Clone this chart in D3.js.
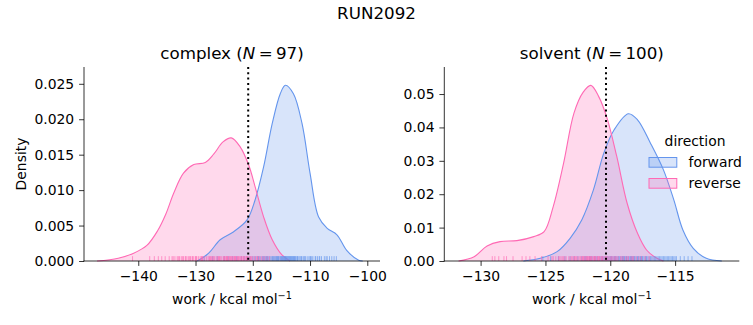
<!DOCTYPE html>
<html><head><meta charset="utf-8">
<script src="https://cdn.jsdelivr.net/npm/d3@7"></script>
<style>
body{margin:0;background:#fff}
text{font-family:"DejaVu Sans",sans-serif;fill:#000}
</style>
</head><body>
<svg id="c" width="753" height="325"></svg>
<script>
// ---------- data ----------
const suptitle = "RUN2092";
const directions = ["forward", "reverse"];
const directionColors = ["#6495ED", "#FF69B4"];
const legendTitle = "direction";

// complex: KDE curves
const complexN = 97;
const complexFwdWork = [-129.7,-127.7,-125.7,-123.4,-121.0,-119.6,-118.1,-116.6,-115.2,-114.3,-112.9,-111.4,-110.0,-108.5,-107.0,-105.3,-103.6,-101.5,-100.8];
const complexFwdDensity = [0,0.0011,0.003,0.0041,0.0058,0.0086,0.0133,0.0194,0.0236,0.0248,0.0236,0.0194,0.0124,0.0062,0.0046,0.0037,0.0015,0.0001,0];
const complexRevWork = [-147.2,-143.5,-140.8,-138.5,-136.6,-135.2,-133.8,-132.1,-130.3,-128.3,-126.8,-125.2,-123.75,-122.2,-120.7,-119.6,-118.1,-116.6,-114.9,-113.5];
const complexRevDensity = [0,0.0004,0.0011,0.0022,0.0043,0.0066,0.0096,0.0124,0.0136,0.0139,0.0151,0.0168,0.01737,0.0161,0.0135,0.0105,0.0062,0.003,0.00085,0];
const complexMeanWork = -120.8;

// complex rug samples
const complexFwdSamples = [-128.5,-127.0,-126.2,-125.0,-124.3,-123.5,-122.8,-122.0,-121.5,-121.0,-120.5,-120.1,
 -119.8,-119.5,-119.2,-118.9,-118.6,-118.3,-118.0,-117.8,-117.6,-117.4,-117.2,-117.0,-119.0,-118.1,-117.5,
 -116.8,-116.6,-116.4,-116.2,-116.0,-115.9,-115.7,-115.5,-115.4,-115.2,-115.0,-114.9,-114.7,-114.6,-114.4,-114.3,-114.1,-114.0,-113.8,-113.7,-113.5,-113.4,-113.2,-113.0,-112.9,-112.7,-112.5,-112.3,-112.1,-111.9,-116.5,-115.8,-115.1,-114.5,-113.9,-113.3,-112.8,-112.2,-115.6,-114.8,-114.2,-113.6,-113.1,-112.6,-114.35,
 -111.7,-111.4,-111.1,-110.8,-110.5,-110.2,-109.9,-109.5,-109.1,-108.7,-108.3,-111.0,-110.0,-111.5,-109.7,
 -108.0,-107.5,-107.0,-106.6,-106.2,-105.8,-105.4,-109.0,-108.4,-107.2];
const complexRevSamples = [-141.0,-138.0,-137.2,-136.5,-135.9,-135.3,-134.6,-134.1,
 -133.6,-133.2,-132.8,-132.5,-132.1,-131.8,-131.5,-131.2,-130.9,-130.6,-130.3,-130.0,-129.8,-129.5,-129.2,-128.9,-128.7,-128.4,-128.1,-133.0,-131.0,-129.9,-128.8,-132.3,-130.5,-129.0,-133.9,-131.7,
 -127.8,-127.5,-127.2,-127.0,-126.7,-126.4,-126.2,-125.9,-125.6,-125.4,-125.1,-124.9,-124.7,-124.5,-124.3,-124.1,-123.9,-123.7,-123.5,-123.3,-123.1,-122.9,-122.7,-122.5,-122.3,-122.1,-121.9,-121.7,-121.5,-121.3,-121.1,-120.9,-126.9,-125.0,-124.0,-123.0,-122.0,-121.0,-125.8,-124.6,-123.6,-122.6,-127.4,-126.0,-124.4,
 -120.7,-120.5,-120.2,-120.0,-119.7,-119.4,-119.1,-118.8,-118.5,-118.2,-117.9,-117.5,-117.1,-120.4,-119.2,
 -127.6,-123.2,-121.6];

// solvent
const solventN = 100;
const solventFwdWork = [-126.7,-125.4,-124.1,-123.1,-122.2,-121.3,-120.5,-119.7,-118.6,-117.9,-116.9,-115.9,-115.1,-114.4,-113.6,-112.6,-111.4];
const solventFwdDensity = [0,0.0008,0.0028,0.0068,0.0123,0.0213,0.0323,0.0393,0.0441,0.0423,0.0353,0.0273,0.0183,0.0093,0.0038,0.0008,0];
const solventRevWork = [-131.7,-130.5,-129.5,-128.5,-127.2,-125.9,-125.1,-124.4,-123.6,-122.8,-122.1,-121.5,-120.9,-120.25,-119.5,-118.7,-117.9,-117.2,-116.4,-115.9];
const solventRevDensity = [0,0.0013,0.0045,0.0058,0.0061,0.0073,0.0088,0.0163,0.0293,0.0443,0.0505,0.0526,0.0493,0.0428,0.0313,0.0173,0.0083,0.0033,0.0008,0];
const solventMeanWork = -120.33;

const solventFwdSamples = [-125.2,-124.6,-124.0,-123.5,-123.1,-122.8,-122.5,
 -122.2,-122.0,-121.8,-121.6,-121.4,-121.2,-121.0,-120.8,-120.6,-120.4,-120.2,-120.0,-119.9,-119.8,-119.7,-119.6,-119.5,-119.4,-119.3,-119.2,-119.1,-119.0,-118.9,-118.8,-118.7,-118.6,-118.5,-118.4,-118.3,-118.2,-118.1,-118.0,-117.9,-117.8,-117.7,-117.6,-117.5,-117.4,-117.3,-117.2,-117.1,-117.0,
 -116.9,-116.7,-116.5,-116.3,-116.1,-115.9,-115.7,-115.5,-115.3,-115.1,-114.9,-114.6,-114.3,-114.0,-113.7,
 -121.9,-121.5,-121.1,-120.7,-120.3,-119.95,-119.65,-119.35,-119.05,-118.75,-118.45,-118.15,-117.85,-117.55,-117.25,-116.8,-116.4,-116.0,-115.6,-115.2,-120.5,-120.1,-118.95,-118.35,-117.65,-116.6,-116.2,-115.8,-115.4,-115.0];
const solventRevSamples = [-129.1,-128.9,-128.6,-128.2,-128.0,-127.5,-126.8,-126.5,-126.2,-125.8,-125.3,
 -124.8,-124.5,-124.2,-124.0,-123.8,-123.6,-123.4,-123.2,-123.0,-122.9,-122.7,-122.6,-122.4,-122.3,-122.2,-122.1,-122.0,-121.9,-121.8,-121.7,-121.6,-121.5,-121.4,-121.3,-121.2,-121.1,-121.0,-120.9,-120.8,-120.7,-120.6,-120.5,-120.4,-120.3,-120.2,-120.1,-120.0,-119.9,-119.8,-119.7,
 -123.9,-123.5,-123.1,-122.8,-122.5,-121.85,-121.55,-121.25,-120.95,-120.65,-120.35,-122.15,-121.75,-121.45,-121.15,-120.85,
 -119.6,-119.4,-119.2,-119.0,-118.8,-118.6,-118.4,-118.2,-118.0,-117.8,-117.6,-117.3,-117.0,-119.5,-119.1,-118.7,-118.3,
 -124.4,-123.7,-122.75,-122.05,-121.65];

const complexXTicks = [-140,-130,-120,-110,-100];
const complexYTicks = [0,0.005,0.010,0.015,0.020,0.025];
const solventXTicks = [-130,-125,-120,-115];
const solventYTicks = [0,0.01,0.02,0.03,0.04,0.05];
const xLabelText = "work / kcal mol";
const yLabelText = "Density";

// ---------- drawing ----------
const svg = d3.select("#c");
const FS = 13.9, TFS = 16.7;

svg.append("text").attr("x", 376.5).attr("y", 18.5).attr("text-anchor","middle")
  .style("font-size", TFS+"px").text(suptitle);

function zip(a,b){ return a.map((v,i)=>[v,b[i]]); }

const panels = [
  {name:"complex", N:complexN, left:84, right:380, top:67, bottom:261,
   xDomain:[-149.48,-97.78], yDomain:[0,0.02737], xTicks:complexXTicks, yTicks:complexYTicks, yFmt:".3f",
   curves:[zip(complexFwdWork,complexFwdDensity), zip(complexRevWork,complexRevDensity)],
   rugs:[complexFwdSamples, complexRevSamples], mean:complexMeanWork, ylabel:true, legend:false},
  {name:"solvent", N:solventN, left:444.3, right:739.3, top:67, bottom:261,
   xDomain:[-132.8,-110.05], yDomain:[0,0.0581], xTicks:solventXTicks, yTicks:solventYTicks, yFmt:".2f",
   curves:[zip(solventFwdWork,solventFwdDensity), zip(solventRevWork,solventRevDensity)],
   rugs:[solventFwdSamples, solventRevSamples], mean:solventMeanWork, ylabel:false, legend:true}
];

panels.forEach(p => {
  const x = d3.scaleLinear().domain(p.xDomain).range([p.left, p.right]);
  const y = d3.scaleLinear().domain(p.yDomain).range([p.bottom, p.top]);
  const g = svg.append("g");
  const cv = d3.curveCatmullRom.alpha(0.5);

  const area = d3.area().x(d=>x(d[0])).y0(y(0)).y1(d=>Math.min(y(d[1]), p.bottom)).curve(cv);
  const line = d3.line().x(d=>x(d[0])).y(d=>y(d[1])).curve(cv);

  p.curves.forEach((c,i) => {
    g.append("path").attr("d", area(c)).attr("fill", directionColors[i]).attr("fill-opacity", 0.25).attr("stroke","none");
  });
  p.curves.forEach((c,i) => {
    g.append("path").attr("d", line(c)).attr("fill","none").attr("stroke", directionColors[i]).attr("stroke-width", 1.1);
  });

  // rug
  const rugH = 0.025*(p.bottom-p.top);
  p.rugs.forEach((s,i) => {
    g.selectAll(null).data(s).enter().append("line")
      .attr("x1", d=>x(d)).attr("x2", d=>x(d))
      .attr("y1", p.bottom).attr("y2", p.bottom-rugH)
      .attr("stroke", directionColors[i]).attr("stroke-opacity", 0.65).attr("stroke-width", 1);
  });

  // mean line
  g.append("line").attr("x1", x(p.mean)).attr("x2", x(p.mean)).attr("y1", p.top).attr("y2", p.bottom)
    .attr("stroke","#000").attr("stroke-width",2).attr("stroke-dasharray","2,3.3");

  // axes
  const xa = d3.axisBottom(x).tickValues(p.xTicks).tickSize(4.9).tickPadding(4.9).tickFormat(d3.format("d"));
  const gx = svg.append("g").attr("transform",`translate(0,${p.bottom})`).call(xa);
  const ya = d3.axisLeft(y).tickValues(p.yTicks).tickSize(4.9).tickPadding(4.9).tickFormat(d3.format(p.yFmt));
  const gy = svg.append("g").attr("transform",`translate(${p.left},0)`).call(ya);
  [gx,gy].forEach(a => {
    a.select(".domain").remove();
    a.selectAll(".tick line").attr("stroke","#000").attr("stroke-width",0.8);
    a.selectAll(".tick text").style("font-family","DejaVu Sans").style("font-size",FS+"px").attr("fill","#000");
  });
  // spines
  svg.append("line").attr("x1",p.left).attr("x2",p.left).attr("y1",p.top).attr("y2",p.bottom+0.4).attr("stroke","#000").attr("stroke-width",0.8);
  svg.append("line").attr("x1",p.left-0.4).attr("x2",p.right).attr("y1",p.bottom).attr("y2",p.bottom).attr("stroke","#000").attr("stroke-width",0.8);

  // title
  const cx = (p.left+p.right)/2;
  const t = svg.append("text").attr("x",cx).attr("y",p.top-8.3).attr("text-anchor","middle").style("font-size",TFS+"px");
  t.append("tspan").text(p.name+" (");
  t.append("tspan").style("font-style","italic").text("N");
  t.append("tspan").text("\u2009=\u2009"+p.N+")");

  // x label
  const xl = svg.append("text").attr("x",cx).attr("y",304).attr("text-anchor","middle").style("font-size",FS+"px");
  xl.append("tspan").text(xLabelText);
  xl.append("tspan").attr("dy",-5).style("font-size","9.7px").text("\u22121");

  if (p.ylabel) {
    svg.append("text").attr("transform",`translate(26,${(p.top+p.bottom)/2}) rotate(-90)`)
      .attr("text-anchor","middle").style("font-size",FS+"px").text(yLabelText);
  }

  if (p.legend) {
    svg.append("text").attr("x",695).attr("y",146).attr("text-anchor","middle").style("font-size",FS+"px").text(legendTitle);
    directions.forEach((d,i) => {
      const yy = 157.5 + i*21;
      svg.append("rect").attr("x",649).attr("y",yy).attr("width",27.8).attr("height",9.7)
        .attr("fill",directionColors[i]).attr("fill-opacity",0.25).attr("stroke",directionColors[i]).attr("stroke-width",1);
      svg.append("text").attr("x",688.5).attr("y",yy+9.7).style("font-size",FS+"px").text(d);
    });
  }
});
</script>
</body></html>
